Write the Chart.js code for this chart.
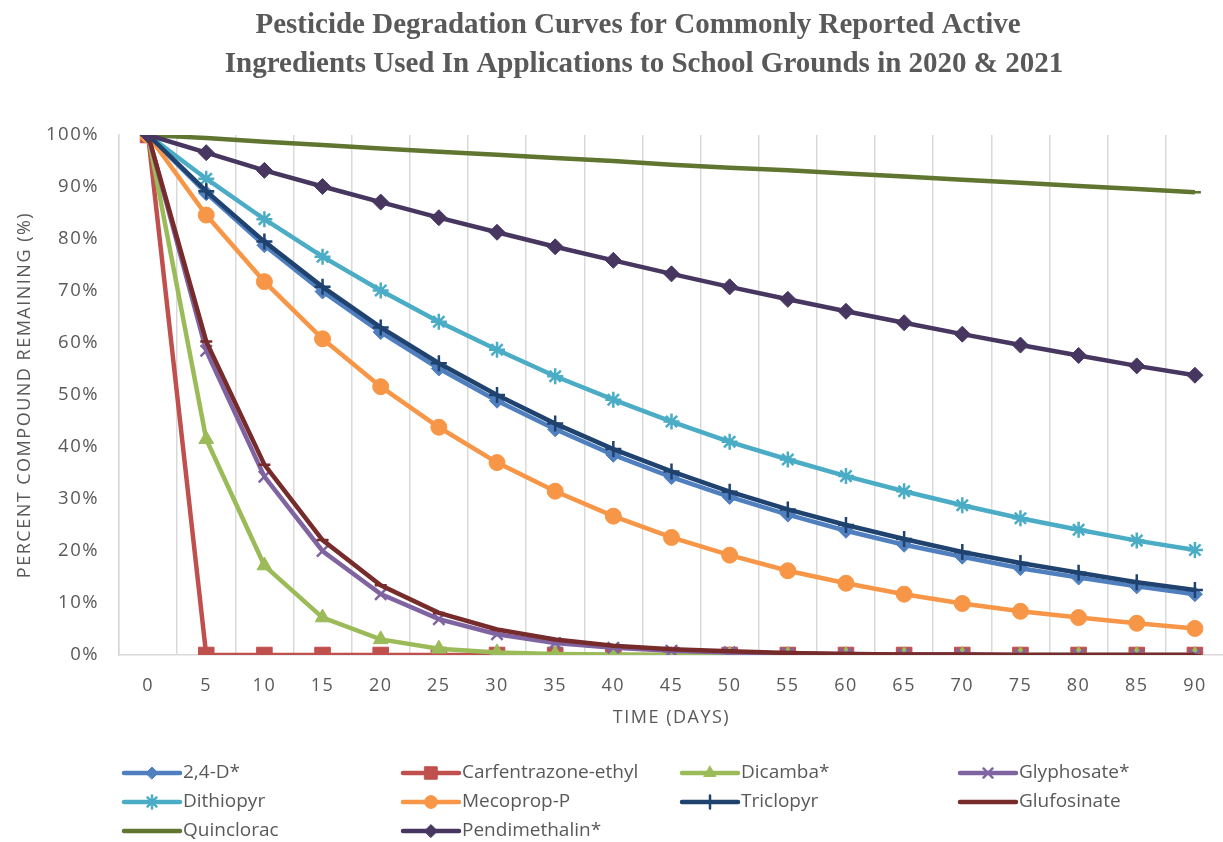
<!DOCTYPE html>
<html>
<head>
<meta charset="utf-8">
<script src="https://cdn.jsdelivr.net/npm/chart.js@4/dist/chart.umd.min.js"></script>
<style>
  html, body { margin: 0; padding: 0; background: #ffffff; overflow: hidden; }
  #wrap { position: relative; width: 1236px; height: 842px; }
</style>
</head>
<body>
<div id="wrap"><canvas id="chart" width="1236" height="842"></canvas></div>
<script>
// Days after application (category axis)
const days = ['0','5','10','15','20','25','30','35','40','45','50','55','60','65','70','75','80','85','90'];

// Percent of compound remaining at each day
const d24D          = [100, 88.8, 78.8, 69.9, 62.1, 55.1, 48.9, 43.4, 38.5, 34.2, 30.4, 27.0, 23.9, 21.2, 18.9, 16.7, 14.9, 13.2, 11.7];
const carfentrazone = [100, 0, 0, 0, 0, 0, 0, 0, 0, 0, 0, 0, 0, 0, 0, 0, 0, 0, 0];
const dicamba       = [100, 41.5, 17.2, 7.2, 3.0, 1.2, 0.5, 0.2, 0.1, 0, 0, 0, 0, 0, 0, 0, 0, 0, 0];
const glyphosate    = [100, 58.5, 34.3, 20.0, 11.7, 6.9, 4.0, 2.3, 1.4, 0.8, 0.5, 0.3, 0.2, 0.1, 0.1, 0, 0, 0, 0];
const dithiopyr     = [100, 91.6, 83.8, 76.6, 70.1, 64.1, 58.7, 53.6, 49.1, 44.9, 41.0, 37.6, 34.4, 31.5, 28.8, 26.3, 24.1, 22.0, 20.2];
const mecoprop      = [100, 84.6, 71.8, 60.8, 51.6, 43.8, 37.0, 31.5, 26.7, 22.6, 19.2, 16.2, 13.8, 11.7, 9.9, 8.4, 7.2, 6.1, 5.1];
const triclopyr     = [100, 89.2, 79.5, 70.8, 63.0, 56.1, 50.0, 44.5, 39.6, 35.3, 31.4, 28.0, 25.0, 22.3, 19.8, 17.7, 15.8, 14.0, 12.5];
const glufosinate   = [100, 60.3, 36.6, 22.1, 13.4, 8.1, 4.9, 3.0, 1.8, 1.1, 0.7, 0.4, 0.2, 0.1, 0.1, 0, 0, 0, 0];
const quinclorac    = [100, 99.4, 98.7, 98.1, 97.4, 96.8, 96.2, 95.6, 95.0, 94.3, 93.7, 93.2, 92.6, 92.0, 91.4, 90.8, 90.2, 89.6, 89.0];
const pendimethalin = [100, 96.6, 93.2, 90.1, 87.1, 84.1, 81.3, 78.5, 75.9, 73.3, 70.8, 68.4, 66.1, 63.9, 61.7, 59.6, 57.6, 55.6, 53.8];

const seriesNames = ['2,4-D*', 'Carfentrazone-ethyl', 'Dicamba*', 'Glyphosate*', 'Dithiopyr',
                     'Mecoprop-P', 'Triclopyr', 'Glufosinate', 'Quinclorac', 'Pendimethalin*'];
const seriesValues = [d24D, carfentrazone, dicamba, glyphosate, dithiopyr,
                      mecoprop, triclopyr, glufosinate, quinclorac, pendimethalin];

const seriesColors = ['#4F7FBE', '#C0504D', '#9BBB59', '#8064A2', '#4BACC6',
                      '#F79646', '#1F426F', '#772B2B', '#5F7530', '#47365F'];
const markerStyles = ['rectRot', 'rect', 'triangle', 'crossRot', 'star',
                      'circle', 'cross', 'line', 'line', 'rectRot'];
const markerSizes  = [7.5, 11, 8.5, 8, 8, 8, 8, 6, 6, 8];

const TEXT = '#595959';
const GRID = '#D9D9D9';

Chart.defaults.font.family = '"Open Sans", sans-serif';
Chart.defaults.color = TEXT;

const datasets = seriesNames.map((name, i) => {
  const strokeOnly = ['crossRot', 'star', 'cross', 'line'].includes(markerStyles[i]);
  return {
    label: name,
    data: seriesValues[i],
    borderColor: seriesColors[i],
    backgroundColor: seriesColors[i],
    borderWidth: 4.5,
    pointStyle: markerStyles[i],
    pointRadius: markerSizes[i],
    pointBackgroundColor: seriesColors[i],
    pointBorderColor: seriesColors[i],
    pointBorderWidth: strokeOnly ? 2.5 : 1,
    tension: 0,
    fill: false,
    order: seriesNames.length - i   // later series are painted on top
  };
});

// Two-line heading
const headingPlugin = {
  id: 'heading',
  afterDraw(chart) {
    const ctx = chart.ctx;
    ctx.save();
    ctx.letterSpacing = '0px';
    ctx.font = 'bold 29px "Liberation Serif", "Times New Roman", serif';
    ctx.fillStyle = TEXT;
    ctx.textAlign = 'center';
    ctx.textBaseline = 'alphabetic';
    ctx.fillText('Pesticide Degradation Curves for Commonly Reported Active', 638, 33);
    ctx.fillText('Ingredients Used In Applications to School Grounds in 2020 & 2021', 644, 72);
    ctx.restore();
  }
};

// Slightly tracked axis text
const trackingPlugin = {
  id: 'tracking',
  beforeDraw(chart) { chart.ctx.letterSpacing = '1.5px'; },
  beforeDatasetsDraw(chart) { chart.ctx.letterSpacing = '0px'; }
};

// Four-column legend below the axis
const gridLegendPlugin = {
  id: 'gridLegend',
  afterDraw(chart) {
    const ctx = chart.ctx;
    const colX = [124, 403, 682, 960];
    const rowY = [773, 802, 831];
    ctx.save();
    ctx.letterSpacing = '0px';
    chart.data.datasets.forEach((ds, i) => {
      const x0 = colX[i % 4];
      const y = rowY[Math.floor(i / 4)];
      ctx.strokeStyle = ds.borderColor;
      ctx.lineWidth = ds.borderWidth;
      ctx.lineCap = 'round';
      ctx.beginPath();
      ctx.moveTo(x0, y);
      ctx.lineTo(x0 + 56, y);
      ctx.stroke();
      if (ds.pointStyle !== 'line') {
        ctx.fillStyle = ds.pointBackgroundColor;
        ctx.strokeStyle = ds.pointBorderColor;
        ctx.lineWidth = ds.pointBorderWidth;
        Chart.helpers.drawPoint(ctx, {
          pointStyle: ds.pointStyle,
          radius: ds.pointRadius * 0.8,
          rotation: 0,
          borderWidth: ds.pointBorderWidth
        }, x0 + 28, y);
      }
      ctx.fillStyle = TEXT;
      ctx.font = '19px "Open Sans", sans-serif';
      ctx.textAlign = 'left';
      ctx.textBaseline = 'middle';
      ctx.fillText(ds.label, x0 + 59, y);
    });
    ctx.restore();
  }
};

new Chart(document.getElementById('chart'), {
  type: 'line',
  data: { labels: days, datasets },
  options: {
    responsive: false,
    animation: false,
    devicePixelRatio: 1,
    layout: { padding: { top: 135, right: 8, bottom: 0, left: 0 } },
    plugins: {
      legend: { display: false },
      tooltip: { enabled: false },
      title: { display: false }
    },
    scales: {
      x: {
        type: 'category',
        offset: true,
        grid: { display: true, offset: true, color: GRID, lineWidth: 1.5, drawTicks: false },
        border: { display: true, color: GRID, width: 1.5 },
        ticks: { font: { size: 18 }, color: TEXT, padding: 20, maxRotation: 0, autoSkip: false },
        title: {
          display: true, text: 'TIME (DAYS)', color: TEXT,
          font: { size: 18 }, padding: { top: 0, bottom: 113 }
        },
        afterFit(scale) { scale.height = 187; }
      },
      y: {
        min: 0, max: 100,
        grid: { display: false, drawTicks: false },
        border: { display: true, color: GRID, width: 1.5 },
        ticks: {
          stepSize: 10, font: { size: 18.5 }, color: TEXT, padding: 20,
          callback: v => v + '%'
        },
        title: {
          display: true, text: 'PERCENT COMPOUND REMAINING (%)', color: TEXT,
          font: { size: 18 }, padding: { top: 14, bottom: 0 }
        },
        afterFit(scale) { scale.width = 119; }
      }
    }
  },
  plugins: [trackingPlugin, headingPlugin, gridLegendPlugin]
});
</script>
</body>
</html>
